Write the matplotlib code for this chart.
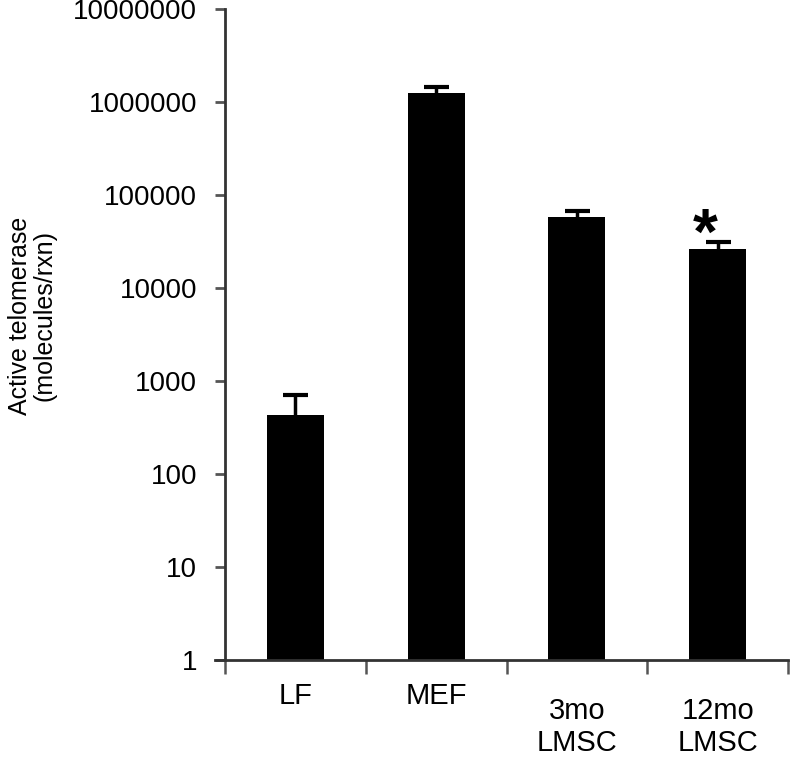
import matplotlib
matplotlib.use("Agg")
import matplotlib.pyplot as plt
import matplotlib.transforms as mtransforms
import numpy as np

plt.rcParams['font.family'] = ['Liberation Sans', 'DejaVu Sans']

categories = ['LF', 'MEF', '3mo\nLMSC', '12mo\nLMSC']
values = [430, 1250000, 58000, 26300]
errors = [270, 200000, 9000, 4700]
yticks = [1, 10, 100, 1000, 10000, 100000, 1000000, 10000000]

fig = plt.figure(figsize=(7.92, 7.57), dpi=100)
ax = fig.add_axes([225 / 792, 1 - 660 / 757, 563 / 792, 651 / 757])

x = np.arange(len(categories))
ax.bar(x, values, width=0.405, color='black', zorder=2)
eb = ax.errorbar(x, values, yerr=[np.zeros(len(errors)), errors], fmt='none',
                 ecolor='black', elinewidth=2.5, capsize=9, capthick=3, zorder=3)
# keep only the upper caps
for cap in eb[1]:
    if np.allclose(cap.get_ydata(), values):
        cap.set_visible(False)

ax.set_yscale('log')
ax.set_ylim(1, 1e7)
ax.set_xlim(-0.5, 3.5)

ax.set_yticks(yticks)
ax.set_yticklabels([str(v) for v in yticks], fontsize=20)
ax.yaxis.set_minor_locator(matplotlib.ticker.NullLocator())
ax.tick_params(axis='y', length=7, width=2, color='#555555', pad=13)

# category boundaries as small ticks under the axis
ax.set_xticks(np.arange(-0.5, 4, 1))
ax.set_xticklabels([])
ax.tick_params(axis='x', length=10, width=1.8, color='#555555', direction='out')

ax.spines['top'].set_color('none')
ax.spines['right'].set_color('none')
for s in ['left', 'bottom']:
    ax.spines[s].set_linewidth(2)
    ax.spines[s].set_color('#333333')
ax.spines['bottom'].set_bounds(-0.5 - 10 / 140.75, 3.5)

# x labels under each bar
trans = ax.get_xaxis_transform()
for i, lab in enumerate(categories):
    if '\n' in lab:
        t = mtransforms.offset_copy(trans, fig=fig, y=-37, units='dots')
        ax.text(i, 0, lab, transform=t, ha='center', va='top',
                fontsize=21, linespacing=1.2)
    else:
        t = mtransforms.offset_copy(trans, fig=fig, y=-36, units='dots')
        ax.text(i, 0, lab, transform=t, ha='center', va='center', fontsize=21)

fig.text(32 / 792, 1 - 316 / 757, 'Active telomerase\n(molecules/rxn)',
         rotation=90, ha='center', va='center', fontsize=18, linespacing=1.05)

# significance mark
ax.annotate('*', xy=(3, values[3] + errors[3]), xytext=(-8.6, -8.6),
            textcoords='offset points', ha='center', va='baseline',
            fontsize=46, fontweight='bold')

fig.savefig('out.png', dpi=100)
